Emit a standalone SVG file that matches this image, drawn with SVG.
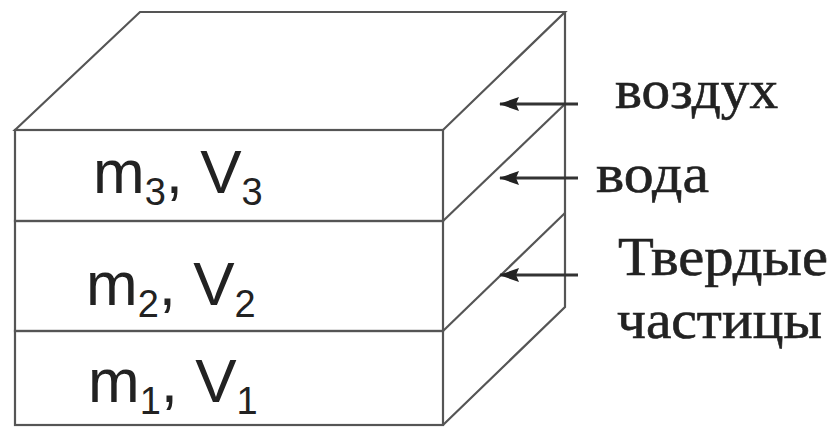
<svg xmlns="http://www.w3.org/2000/svg" width="829" height="428" viewBox="0 0 829 428">
<style>
.edge{fill:none;stroke:#555;stroke-width:2.2;stroke-linejoin:miter}
.arr{stroke:#333;stroke-width:3;fill:none}
.sans{font-family:"Liberation Sans",Arial,sans-serif;font-size:62px;fill:#222}
.sub{font-size:38px}
.serif{font-family:"Liberation Serif","Times New Roman",serif;font-size:55px;fill:#222;stroke:#222;stroke-width:0.6}
</style>
<defs>
<marker id="ah" viewBox="0 0 20 14" refX="19" refY="7" markerWidth="20" markerHeight="14" markerUnits="userSpaceOnUse" orient="auto">
<path d="M20,7 L0,0 L3,7 L0,14 Z" fill="#222"/>
</marker>
</defs>
<rect width="829" height="428" fill="#fff"/>
<g id="box">
<path class="edge" d="M15,130 L140,12 L565,12 L443,130 Z"/>
<path class="edge" d="M565,12 L565,307 L443,425"/>
<path class="edge" d="M443,221 L565,104"/>
<path class="edge" d="M443,331 L565,213"/>
</g>
<g id="layer3">
<rect class="edge" x="15" y="130" width="428" height="91"/>
<text class="sans" x="93" y="193">m<tspan class="sub" dy="12">3</tspan><tspan dy="-12">, V</tspan><tspan class="sub" dy="12">3</tspan></text>
</g>
<g id="layer2">
<rect class="edge" x="15" y="221" width="428" height="110"/>
<text class="sans" x="86" y="305">m<tspan class="sub" dy="12">2</tspan><tspan dy="-12">, V</tspan><tspan class="sub" dy="12">2</tspan></text>
</g>
<g id="layer1">
<rect class="edge" x="15" y="331" width="428" height="94"/>
<text class="sans" x="88" y="402">m<tspan class="sub" dy="12">1</tspan><tspan dy="-12">, V</tspan><tspan class="sub" dy="12">1</tspan></text>
</g>
<g id="connectors">
<line class="arr" x1="578" y1="104" x2="500" y2="104" marker-end="url(#ah)"/>
<line class="arr" x1="578" y1="178" x2="500" y2="178" marker-end="url(#ah)"/>
<line class="arr" x1="578" y1="275" x2="500" y2="275" marker-end="url(#ah)"/>
</g>
<g id="label-air"><text class="serif" x="615" y="108" textLength="163" lengthAdjust="spacingAndGlyphs">воздух</text></g>
<g id="label-water"><text class="serif" x="596" y="192" textLength="113" lengthAdjust="spacingAndGlyphs">вода</text></g>
<g id="label-solid"><text class="serif" x="618" y="275" textLength="210" lengthAdjust="spacingAndGlyphs">Твердые</text><text class="serif" x="617" y="338" textLength="205" lengthAdjust="spacingAndGlyphs">частицы</text></g>
</svg>
